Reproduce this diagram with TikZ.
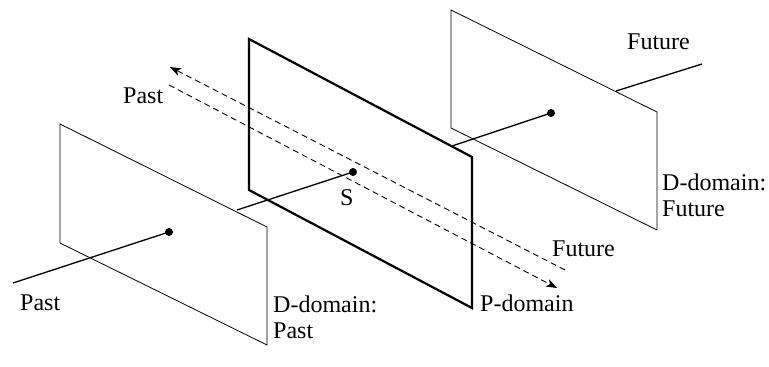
\documentclass[tikz,border=0pt]{standalone}
\usepackage{fontspec}
\setmainfont{Liberation Serif}
\usetikzlibrary{arrows.meta}
\begin{document}
\begin{tikzpicture}[x=1pt,y=-1pt,
  thinplane/.style={line width=0.8pt},
  thickplane/.style={line width=2.2pt},
  ray/.style={line width=1.3pt},
  dashray/.style={line width=0.9pt, dash pattern=on 6pt off 4pt, -{Stealth[length=11pt,width=8pt,inset=3pt]}},
  lbl/.style={font=\fontsize{24}{26}\selectfont, inner sep=0pt, anchor=base west, align=left},
  dot/.style={circle, fill=black, inner sep=0pt, minimum size=8pt}]
\useasboundingbox (0,0) rectangle (769,367);
% left D-domain plane
\coordinate (L1) at (60,124); \coordinate (L2) at (267,227);
\coordinate (L3) at (267,345); \coordinate (L4) at (60,243);
\draw[thinplane] (L1) -- (L2) -- (L3) -- (L4) -- cycle;
% P-domain plane
\coordinate (P1) at (249,39); \coordinate (P2) at (472,157);
\coordinate (P3) at (472,308); \coordinate (P4) at (249,190);
\draw[thickplane, line join=miter] (P1) -- (P2) -- (P3) -- (P4) -- cycle;
% right D-domain plane
\coordinate (R1) at (451,10); \coordinate (R2) at (657,112);
\coordinate (R3) at (657,230); \coordinate (R4) at (451,128);
\draw[thinplane] (R1) -- (R2) -- (R3) -- (R4) -- cycle;
% dots
\node[dot] (dl) at (169,232) {};
\node[dot] (ds) at (353,172) {};
\node[dot] (dr) at (551,113) {};
% ray ends
\coordinate (pastend) at (13,283);
\coordinate (sleft) at (237,210);
\coordinate (rleft) at (452,146);
\coordinate (fstart) at (616,91);
\coordinate (fend) at (702,64);
\draw[ray] (dl.center) -- (pastend);
\draw[ray] (ds.center) -- (sleft);
\draw[ray] (dr.center) -- (rleft);
\draw[ray] (fstart) -- (fend);
% dashed arrows
\coordinate (u1) at (565,270); \coordinate (u2) at (170,67);
\coordinate (w1) at (169,85); \coordinate (w2) at (557,288);
\draw[dashray] (u1) -- (u2);
\draw[dashray] (w1) -- (w2);
% labels
\node[lbl] (tfut) at (627,49) {Future};
\node[lbl] (tpast) at (123,103) {Past};
\node[lbl] (ts) at (340,205) {S};
\node[lbl] (tddf) at (662,216) {D-domain:\\Future};
\node[lbl] (tfut2) at (552,256) {Future};
\node[lbl] (tpd) at (480,311) {P-domain};
\node[lbl] (tpast2) at (20,310) {Past};
\node[lbl] (tddp) at (273,338) {D-domain:\\Past};
\end{tikzpicture}
\end{document}
